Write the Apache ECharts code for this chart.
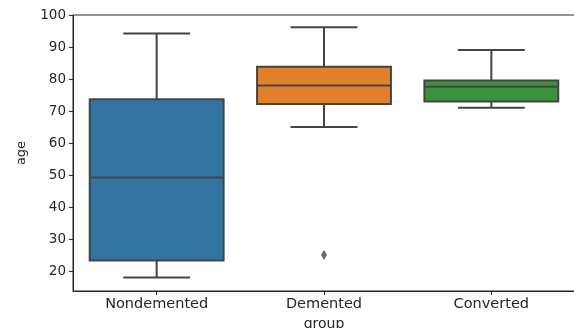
<!DOCTYPE html>
<html>
<head>
<meta charset="utf-8">
<script src="https://cdn.jsdelivr.net/npm/echarts@6/dist/echarts.min.js"></script>
<style>html,body{margin:0;padding:0;background:#fff}#c{width:574px;height:328px}</style>
</head>
<body>
<div id="c"></div>
<script>
const categories = ['Nondemented', 'Demented', 'Converted'];
const lowWhisker = [18, 65, 71];
const q1 = [23.3, 72.2, 73];
const median = [49.2, 78, 77.6];
const q3 = [73.7, 83.8, 79.5];
const highWhisker = [94.2, 96.2, 89.1];
const outliers = [['Demented', 25]];
const yTicks = [20, 30, 40, 50, 60, 70, 80, 90, 100];
const colors = ['#3274a1', '#e1812c', '#3a923a'];

const FONT = 'DejaVu Sans';
const LINE = '#444444';

const boxData = categories.map((c, i) => [i, lowWhisker[i], q1[i], median[i], q3[i], highWhisker[i]]);

const chart = echarts.init(document.getElementById('c'), null, {renderer: 'canvas'});
chart.setOption({
  animation: false,
  backgroundColor: '#fff',
  grid: {left: 73, right: -1, top: 15, bottom: 37, outerBoundsMode: 'none', containLabel: false,
    show: true, borderColor: '#262626', borderWidth: 1, backgroundColor: 'transparent'},
  xAxis: {
    type: 'category', data: categories, boundaryGap: true,
    name: 'group', nameLocation: 'middle', nameGap: 24,
    nameTextStyle: {fontFamily: FONT, fontSize: 14, color: '#262626'},
    axisLine: {show: true, lineStyle: {color: '#262626', width: 1}},
    axisTick: {show: true, alignWithLabel: true, length: 4, lineStyle: {color: '#262626'}},
    axisLabel: {fontFamily: FONT, fontSize: 14.5, color: '#262626', margin: 6},
    splitLine: {show: false}
  },
  yAxis: {
    type: 'value', min: 13.75, max: 100,
    name: 'age', nameLocation: 'middle', nameGap: 45, nameRotate: 90,
    nameTextStyle: {fontFamily: FONT, fontSize: 13, color: '#262626'},
    axisLine: {show: true, lineStyle: {color: '#262626', width: 1}},
    axisTick: {show: true, length: 4, lineStyle: {color: '#262626'}, customValues: yTicks},
    axisLabel: {fontFamily: FONT, fontSize: 13.5, color: '#262626', margin: 7, customValues: yTicks},
    splitLine: {show: false}
  },
  series: [
    {
      type: 'custom',
      data: boxData,
      encode: {x: 0, y: [1, 2, 3, 4, 5]},
      renderItem: function (params, api) {
        const idx = api.value(0);
        const pLow = api.coord([idx, api.value(1)]);
        const pQ1 = api.coord([idx, api.value(2)]);
        const pMed = api.coord([idx, api.value(3)]);
        const pQ3 = api.coord([idx, api.value(4)]);
        const pHigh = api.coord([idx, api.value(5)]);
        const bw = api.size([1, 0])[0] * 0.8;
        const cx = pMed[0];
        const ls = {stroke: LINE, lineWidth: 2};
        return {
          type: 'group',
          children: [
            {type: 'line', shape: {x1: cx, y1: pQ3[1], x2: cx, y2: pHigh[1]}, style: ls},
            {type: 'line', shape: {x1: cx - bw / 4, y1: pHigh[1], x2: cx + bw / 4, y2: pHigh[1]}, style: ls},
            {type: 'line', shape: {x1: cx, y1: pQ1[1], x2: cx, y2: pLow[1]}, style: ls},
            {type: 'line', shape: {x1: cx - bw / 4, y1: pLow[1], x2: cx + bw / 4, y2: pLow[1]}, style: ls},
            {type: 'rect', shape: {x: cx - bw / 2, y: pQ3[1], width: bw, height: pQ1[1] - pQ3[1]},
              style: {fill: colors[idx], stroke: LINE, lineWidth: 2}},
            {type: 'line', shape: {x1: cx - bw / 2, y1: pMed[1], x2: cx + bw / 2, y2: pMed[1]}, style: ls}
          ]
        };
      }
    },
    {
      type: 'scatter',
      data: outliers,
      symbol: 'diamond',
      symbolSize: [6, 10],
      itemStyle: {color: LINE}
    }
  ]
});
</script>
</body>
</html>
